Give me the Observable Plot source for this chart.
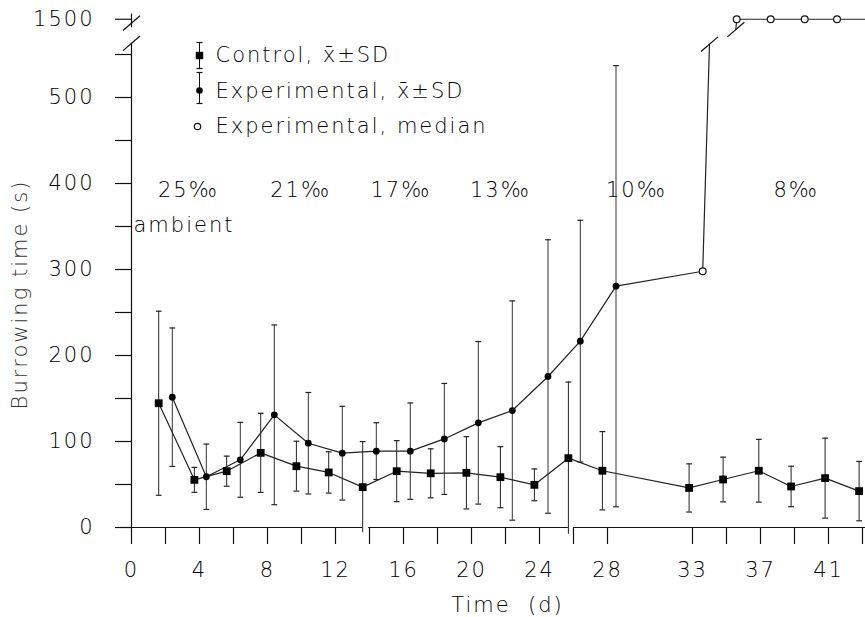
<!DOCTYPE html>
<html>
<head>
<meta charset="utf-8">
<script src="https://cdn.jsdelivr.net/npm/d3@7"></script>
<script src="https://cdn.jsdelivr.net/npm/@observablehq/plot@0.6"></script>
<style>
  html, body { margin: 0; padding: 0; background: #fff; }
  #chart { width: 865px; height: 617px; }
</style>
</head>
<body>
<div id="chart"></div>
<script>
// ---------------- data ----------------
const controlDays = [1.6, 3.7, 5.6, 7.6, 9.7, 11.6, 13.6, 15.6, 17.6, 19.7, 21.7, 23.7, 25.7, 27.7, 32.8, 34.8, 36.9, 38.8, 40.8, 42.8];
const controlMean = [144.5, 55.4, 65.5, 86.8, 71.3, 64, 46.9, 65.5, 63, 63.6, 58.5, 49.6, 80.6, 66, 46, 55.8, 66, 47.7, 57.4, 42.3];
const controlSD   = [107, 14.5, 17.5, 46, 29, 24, 53, 35.5, 28.5, 42, 35.5, 18.5, 88.5, 45.5, 28, 26, 36.5, 23.5, 46.5, 34.5];

const expDays = [2.4, 4.4, 6.4, 8.4, 10.4, 12.4, 14.4, 16.4, 18.4, 20.4, 22.4, 24.5, 26.4, 28.5];
const expMean = [151.5, 59, 78.7, 131, 98, 86.4, 88.8, 88.8, 103, 121.7, 136, 175.6, 216.7, 280.6];
const expSD   = [80.5, 38, 43.5, 104.5, 59, 54.5, 33, 56, 64.5, 94.5, 127.5, 159, 140.5, 256.5];

const medianDays = [33.6, 35.6, 37.6, 39.6, 41.5, 43.5];
const medianVals = [298, 1500, 1500, 1500, 1500, 1500];

const salinityLabels = ["25‰", "21‰", "17‰", "13‰", "10‰", "8‰"];
const salinityMid    = [3.35, 9.95, 15.85, 21.7, 29.7, 39.1];

const xTickValues  = [0,2,4,6,8,10,12,14,16,18,20,22,24,26,28,33,35,37,39,41,43];
const xLabelValues = [0,4,8,12,16,20,24,28,33,37,41];
const yTickValues  = [0,50,100,150,200,250,300,350,400,450,500,550,1500];
const yLabelValues = [0,100,200,300,400,500,1500];

const legendLabels = ["Control, x̄±SD", "Experimental, x̄±SD", "Experimental, median"];

// ---------------- layout helpers ----------------
const W = 865, H = 617;
const X0 = 131, PXD = 17, Y0 = 527, PXV = 0.86;
const px2x = px => (px - X0) / PXD;
const px2y = py => (Y0 - py) / PXV;
// broken y axis: values above the break are shifted down
const yd = v => v >= 1000 ? v - 909 : v;
const ydInv = d => d > 570 ? d + 909 : d;

const control = controlDays.map((d, i) => ({day: d, v: controlMean[i], lo: controlMean[i] - controlSD[i], hi: controlMean[i] + controlSD[i]}));
const exper = expDays.map((d, i) => ({day: d, v: expMean[i], lo: expMean[i] - expSD[i], hi: expMean[i] + expSD[i]}));
const medians = medianDays.map((d, i) => ({day: d, v: yd(medianVals[i])}));

// break in the median line
const breakLow = {day: 34.0, v: 562};
const breakHigh = {day: 35.55, v: 579};
const lowerPath = [...exper.map(d => ({day: d.day, v: d.v})), medians[0], breakLow];
const upperPath = [breakHigh, ...medians.slice(1)];
const slashes = [{day: 0, v: 563}, {day: 0, v: 586.5}, breakLow, breakHigh];

const baseSegs = [{a: 0, b: controlDays[6]}, {a: 13.95, b: controlDays[12]}, {a: 26.0, b: (W - X0) / PXD}];
const yAxisSegs = [{a: 0, b: 563}, {a: 581, b: 597}];

const ink = "#111";
const capW = 0.17;
const caps = (arr) => [
  ...arr.filter(d => d.lo >= 0).map(d => ({day: d.day, v: d.lo})),
  ...arr.map(d => ({day: d.day, v: d.hi}))
];

const chart = Plot.plot({
  width: W, height: H,
  marginLeft: X0, marginRight: 0, marginTop: 11, marginBottom: H - Y0,
  x: {domain: [0, (W - X0) / PXD], axis: null},
  y: {domain: [0, (Y0 - 11) / PXV], axis: null},
  style: {fontFamily: "'DejaVu Sans', sans-serif", fontSize: "21px", fontWeight: 200, color: "#000", background: "#fff", letterSpacing: "2px"},
  marks: [
    // axes
    Plot.ruleY(baseSegs, {y: 0, x1: "a", x2: "b", stroke: ink, strokeWidth: 1.2}),
    Plot.ruleX(yAxisSegs, {x: 0, y1: "a", y2: "b", stroke: ink, strokeWidth: 1.2}),
    Plot.axisX({ticks: xTickValues, tickSize: 17, tickPadding: 18, fontSize: 21, label: null,
      tickFormat: d => xLabelValues.includes(d) ? String(d) : "", stroke: ink, strokeWidth: 1.2}),
    Plot.axisY({ticks: yTickValues.map(yd), tickSize: 16, tickPadding: 21, fontSize: 21, label: null,
      tickFormat: d => yLabelValues.includes(ydInv(d)) ? String(ydInv(d)) : "", stroke: ink, strokeWidth: 1.2}),
    Plot.link(slashes, {x1: d => d.day - 0.5, y1: d => d.v - 8.5, x2: d => d.day + 0.5, y2: d => d.v + 8.5, stroke: ink, strokeWidth: 1.3}),

    // error bars
    Plot.ruleX(control, {x: "day", y1: "lo", y2: "hi", stroke: "#222", strokeWidth: 1}),
    Plot.ruleX(exper, {x: "day", y1: "lo", y2: "hi", stroke: "#333", strokeWidth: 1}),
    Plot.link(caps(control), {x1: d => d.day - capW, x2: d => d.day + capW, y1: "v", y2: "v", stroke: "#222", strokeWidth: 1.2}),
    Plot.link(caps(exper), {x1: d => d.day - capW, x2: d => d.day + capW, y1: "v", y2: "v", stroke: "#222", strokeWidth: 1.2}),

    // lines
    Plot.line(control, {x: "day", y: "v", stroke: "#222", strokeWidth: 1.2}),
    Plot.line(lowerPath, {x: "day", y: "v", stroke: "#222", strokeWidth: 1.2}),
    Plot.line(upperPath, {x: "day", y: "v", stroke: "#222", strokeWidth: 1.2, clip: true}),

    // points
    Plot.dot(control, {x: "day", y: "v", symbol: "square", r: 4.4, fill: "#000", stroke: "none"}),
    Plot.dot(exper, {x: "day", y: "v", symbol: "circle", r: 3.4, fill: "#000", stroke: "none"}),
    Plot.dot(medians, {x: "day", y: "v", symbol: "circle", r: 3.4, fill: "#fff", stroke: "#111", strokeWidth: 1.2, clip: true}),

    // salinity annotations
    Plot.text(salinityLabels, {x: (d, i) => salinityMid[i], y: px2y(190), text: d => d, fontSize: 21, fill: "#000"}),
    Plot.text(["ambient"], {x: px2x(133), y: px2y(225), text: d => d, textAnchor: "start", fontSize: 21, fill: "#000"}),

    // legend
    Plot.ruleX([0], {x: px2x(199), y1: px2y(68), y2: px2y(42), stroke: ink, strokeWidth: 1}),
    Plot.link([px2y(68), px2y(42)], {x1: px2x(196), x2: px2x(202), y1: d => d, y2: d => d, stroke: ink, strokeWidth: 1.2}),
    Plot.dot([0], {x: px2x(199), y: px2y(55), symbol: "square", r: 4.2, fill: "#000"}),
    Plot.ruleX([0], {x: px2x(199), y1: px2y(103), y2: px2y(72), stroke: ink, strokeWidth: 1}),
    Plot.link([px2y(103), px2y(72)], {x1: px2x(196), x2: px2x(202), y1: d => d, y2: d => d, stroke: ink, strokeWidth: 1.2}),
    Plot.dot([0], {x: px2x(199), y: px2y(90), symbol: "circle", r: 3.3, fill: "#000"}),
    Plot.dot([0], {x: px2x(197), y: px2y(126), symbol: "circle", r: 3.2, fill: "#fff", stroke: ink, strokeWidth: 1.2}),
    Plot.text(legendLabels, {x: px2x(215), y: (d, i) => px2y([55, 91, 126][i]), text: d => d, textAnchor: "start", fontSize: 21, fill: "#000"}),

    // axis titles
    Plot.text(["Burrowing time (s)"], {x: px2x(20), y: px2y(294), text: d => d, rotate: -90, fontSize: 21, fill: "#333"}),
    Plot.text(["Time  (d)"], {x: px2x(507), y: px2y(605), text: d => d, fontSize: 21, fill: "#000"})
  ]
});
document.getElementById("chart").appendChild(chart);
</script>
</body>
</html>
